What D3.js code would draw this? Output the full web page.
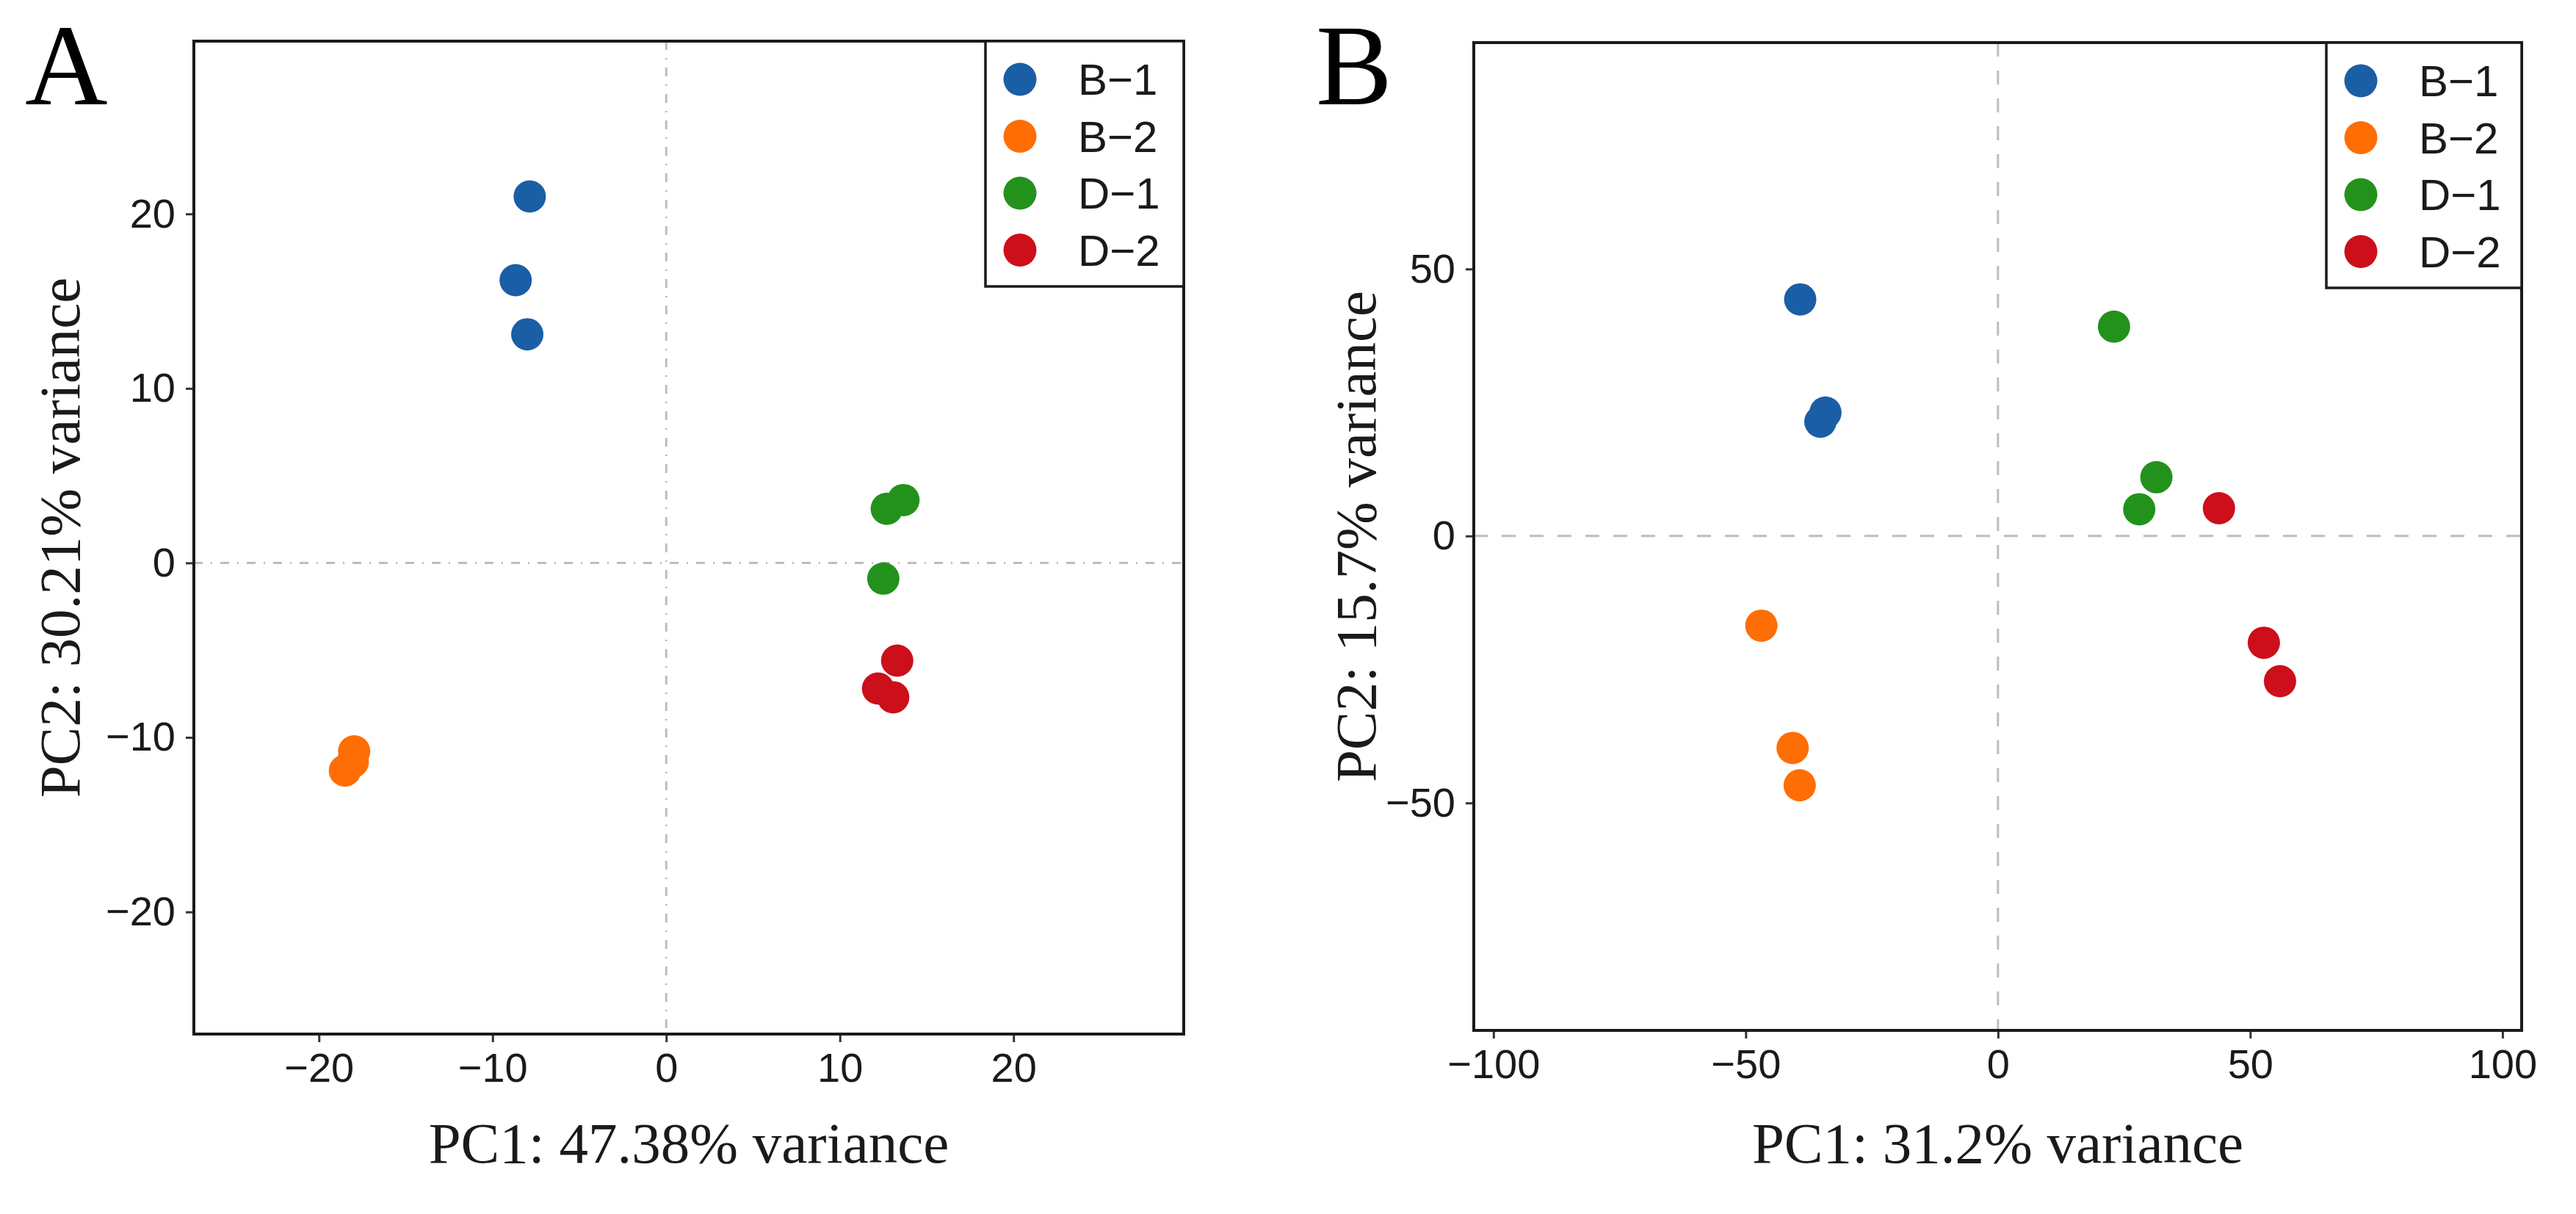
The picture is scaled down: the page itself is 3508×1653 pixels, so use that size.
<!DOCTYPE html>
<html>
<head>
<meta charset="utf-8">
<script src="https://cdn.jsdelivr.net/npm/d3@7/dist/d3.min.js"></script>
<style>
  html, body { margin: 0; padding: 0; background: #fff; }
  svg { display: block; }
</style>
</head>
<body>
<div id="chart"></div>
<script>
// ── Data ──────────────────────────────────────────────────────────────────

const GROUPS  = ['B-1', 'B-2', 'D-1', 'D-2'];
const COLORS  = ['#1a5ea6', '#ff6d05', '#23921c', '#cc0f1a'];

// sample -> group, same order in both panels
const SAMPLE_GROUP = ['B-1', 'B-1', 'B-1', 'B-2', 'B-2', 'B-2', 'D-1', 'D-1', 'D-1', 'D-2', 'D-2', 'D-2'];

// panel A
const A_PC1 = [-7.86, -8.67, -8.0, -17.97, -18.5, -18.05, 12.7, 13.66, 12.5, 13.3, 12.2, 13.07];
const A_PC2 = [21.0, 16.2, 13.1, -10.8, -11.9, -11.4, 3.1, 3.6, -0.9, -5.6, -7.2, -7.7];
const A_TICKS_X = [-20, -10, 0, 10, 20];
const A_TICKS_Y = [-20, -10, 0, 10, 20];

// panel B
const B_PC1 = [-39.2, -34.2, -35.2, -46.9, -40.7, -39.3, 23.0, 31.4, 28.0, 43.8, 52.7, 55.9];
const B_PC2 = [44.3, 23.1, 21.4, -16.8, -39.7, -46.7, 39.2, 11.0, 5.0, 5.2, -20.0, -27.2];
const B_TICKS_X = [-100, -50, 0, 50, 100];
const B_TICKS_Y = [-50, 0, 50];

// ── Layout ────────────────────────────────────────────────────────────────

const W = 3508, H = 1653;
const SANS  = '"Liberation Sans", Arial, Helvetica, sans-serif';
const SERIF = '"Liberation Serif", "Times New Roman", serif';
const INK   = '#1a1a1a';

const PANELS = [
  {
    tag: 'A', tagX: 34,
    box: { left: 264, top: 56, right: 1612, bottom: 1408 },
    xDom: [-27.2, 29.8], yDom: [-27.0, 29.9],
    xs: A_PC1, ys: A_PC2, xt: A_TICKS_X, yt: A_TICKS_Y,
    xTitle: 'PC1: 47.38% variance', yTitle: 'PC2: 30.21% variance',
    yTitleX: 108, legendW: 270, dash: '12 11 2 11'
  },
  {
    tag: 'B', tagX: 1792,
    box: { left: 2007, top: 58, right: 3434, bottom: 1403 },
    xDom: [-103.9, 103.8], yDom: [-92.6, 92.4],
    xs: B_PC1, ys: B_PC2, xt: B_TICKS_X, yt: B_TICKS_Y,
    xTitle: 'PC1: 31.2% variance', yTitle: 'PC2: 15.7% variance',
    yTitleX: 1873, legendW: 266, dash: '19 19'
  }
];

const color = d3.scaleOrdinal().domain(GROUPS).range(COLORS);
const pretty = function (s) { return s.replace('-', '\u2212'); };

const svg = d3.select('#chart').append('svg')
  .attr('width', W).attr('height', H)
  .attr('viewBox', [0, 0, W, H]);

svg.append('rect').attr('width', W).attr('height', H).attr('fill', '#fff');

PANELS.forEach(function (p) {
  const b = p.box;
  const x = d3.scaleLinear().domain(p.xDom).range([b.left, b.right]);
  const y = d3.scaleLinear().domain(p.yDom).range([b.bottom, b.top]);
  const g = svg.append('g');

  // zero reference lines
  g.append('line')
    .attr('x1', b.left).attr('x2', b.right)
    .attr('y1', y(0)).attr('y2', y(0))
    .attr('stroke', '#bdbdbd').attr('stroke-width', 3)
    .attr('stroke-dasharray', p.dash);
  g.append('line')
    .attr('x1', x(0)).attr('x2', x(0))
    .attr('y1', b.top).attr('y2', b.bottom)
    .attr('stroke', '#bdbdbd').attr('stroke-width', 3)
    .attr('stroke-dasharray', p.dash);

  // points
  g.append('g').selectAll('circle')
    .data(SAMPLE_GROUP.map(function (grp, i) { return { grp: grp, x: p.xs[i], y: p.ys[i] }; }))
    .join('circle')
    .attr('cx', function (d) { return x(d.x); })
    .attr('cy', function (d) { return y(d.y); })
    .attr('r', 22)
    .attr('fill', function (d) { return color(d.grp); });

  // axes
  const ax = g.append('g')
    .attr('transform', 'translate(0,' + b.bottom + ')')
    .call(d3.axisBottom(x).tickValues(p.xt).tickSize(11).tickPadding(14));
  const ay = g.append('g')
    .attr('transform', 'translate(' + b.left + ',0)')
    .call(d3.axisLeft(y).tickValues(p.yt).tickSize(11).tickPadding(14));
  [ax, ay].forEach(function (a) {
    a.select('.domain').remove();
    a.selectAll('.tick line').attr('stroke', '#333').attr('stroke-width', 3);
    a.selectAll('.tick text')
      .attr('fill', INK)
      .style('font-family', SANS)
      .style('font-size', '56px');
  });

  // panel border
  g.append('rect')
    .attr('x', b.left).attr('y', b.top)
    .attr('width', b.right - b.left).attr('height', b.bottom - b.top)
    .attr('fill', 'none').attr('stroke', INK).attr('stroke-width', 4);

  // legend
  const lg = g.append('g')
    .attr('transform', 'translate(' + (b.right - p.legendW) + ',' + b.top + ')');
  lg.append('rect')
    .attr('width', p.legendW).attr('height', 334)
    .attr('fill', '#fff').attr('stroke', INK).attr('stroke-width', 3.5);
  const item = lg.selectAll('g.item')
    .data(GROUPS)
    .join('g')
    .attr('class', 'item')
    .attr('transform', function (d, i) { return 'translate(0,' + (52 + i * 77.5) + ')'; });
  item.append('circle')
    .attr('cx', 47).attr('r', 22.5)
    .attr('fill', function (d) { return color(d); });
  item.append('text')
    .attr('x', 126).attr('y', 21)
    .attr('fill', INK)
    .style('font-family', SANS)
    .style('font-size', '60px')
    .text(function (d) { return pretty(d); });

  // axis titles
  g.append('text')
    .attr('x', (b.left + b.right) / 2).attr('y', 1583)
    .attr('text-anchor', 'middle')
    .attr('fill', INK)
    .style('font-family', SERIF).style('font-size', '79px')
    .text(p.xTitle);
  g.append('text')
    .attr('transform', 'translate(' + p.yTitleX + ',' + ((b.top + b.bottom) / 2) + ') rotate(-90)')
    .attr('text-anchor', 'middle')
    .attr('fill', INK)
    .style('font-family', SERIF).style('font-size', '79px')
    .text(p.yTitle);

  // panel tag
  g.append('text')
    .attr('x', p.tagX).attr('y', 142)
    .attr('fill', '#000')
    .style('font-family', SERIF).style('font-size', '156px')
    .text(p.tag);
});
</script>
</body>
</html>
